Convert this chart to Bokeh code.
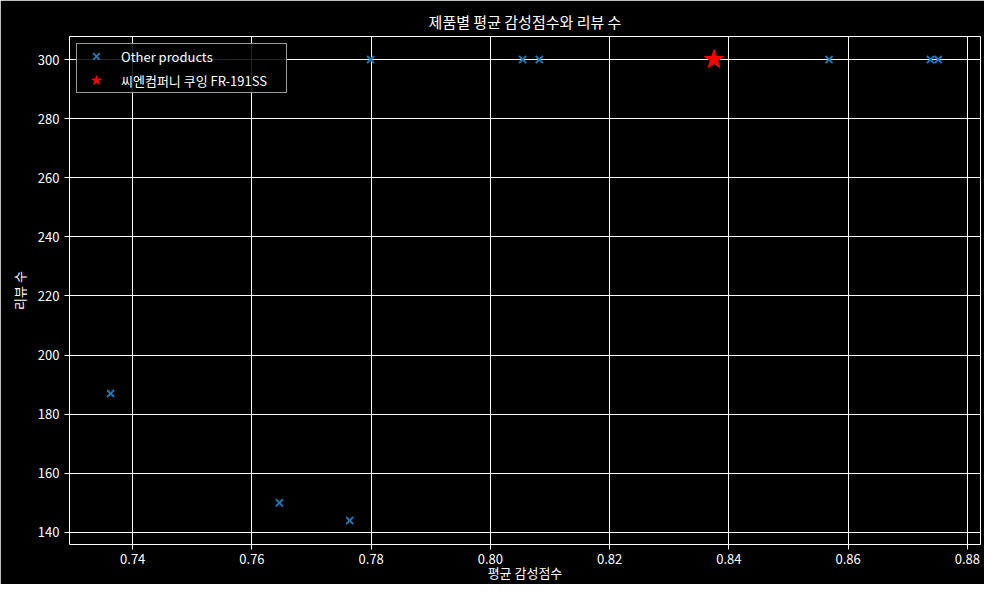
from bokeh.plotting import figure
from bokeh.models import Range1d, FixedTicker, Legend, LegendItem, ColumnDataSource
from bokeh.embed import file_html
from bokeh.resources import INLINE

FONT = "Noto Sans CJK KR"

other_scores = [0.7363, 0.7646, 0.7764, 0.7799, 0.8054, 0.8082, 0.8568, 0.8738, 0.8751]
other_reviews = [187, 150, 144, 300, 300, 300, 300, 300, 300]
target_name = "씨엔컴퍼니 쿠잉 FR-191SS"
target_score = [0.8375]
target_reviews = [300]
x_ticks = [0.74, 0.76, 0.78, 0.80, 0.82, 0.84, 0.86, 0.88]
y_ticks = [140, 160, 180, 200, 220, 240, 260, 280, 300]

p = figure(width=984, height=584, output_backend="svg", toolbar_location=None,
           x_range=Range1d(0.7294, 0.8822), y_range=Range1d(135.9, 307.8),
           min_border_left=69, min_border_right=4, min_border_top=36, min_border_bottom=40,
           background_fill_color="black", border_fill_color="black",
           title="제품별 평균 감성점수와 리뷰 수")

p.title.text_color = "white"
p.title.text_font = FONT
p.title.text_font_size = "15px"
p.title.text_font_style = "normal"
p.title.align = "center"

p.outline_line_color = "white"
p.outline_line_width = 1
p.outline_line_alpha = 1

for ax in (p.xaxis[0], p.yaxis[0]):
    ax.axis_line_color = None
    ax.major_tick_line_color = "white"
    ax.major_tick_in = 0
    ax.major_tick_out = 5
    ax.minor_tick_line_color = None
    ax.major_label_text_color = "white"
    ax.major_label_text_font = FONT
    ax.major_label_text_font_size = "13px"
    ax.axis_label_text_color = "white"
    ax.axis_label_text_font = FONT
    ax.axis_label_text_font_size = "13px"
    ax.axis_label_text_font_style = "normal"

p.xaxis.ticker = FixedTicker(ticks=x_ticks)
p.yaxis.ticker = FixedTicker(ticks=y_ticks)
p.xaxis.major_label_overrides = {t: f"{t:.2f}" for t in x_ticks}
p.xaxis.axis_label = "평균 감성점수"
p.yaxis.axis_label = "리뷰 수"
p.xaxis.axis_label_standoff = -4
p.yaxis.axis_label_standoff = 6
p.xaxis.major_label_standoff = 4
p.yaxis.major_label_standoff = 5

p.xgrid.grid_line_color = "white"
p.ygrid.grid_line_color = "white"
p.xgrid.grid_line_width = 1
p.ygrid.grid_line_width = 1
p.xgrid.ticker = FixedTicker(ticks=x_ticks)
p.ygrid.ticker = FixedTicker(ticks=y_ticks)

src_o = ColumnDataSource(dict(x=other_scores, y=other_reviews))
src_t = ColumnDataSource(dict(x=target_score, y=target_reviews))
r1 = p.scatter("x", "y", source=src_o, marker="x", size=10, line_color="#1f77b4", line_width=2)
r2 = p.scatter("x", "y", source=src_t, marker="star", size=20, fill_color="red", line_color="red")

legend = Legend(items=[LegendItem(label="Other products", renderers=[r1]),
                       LegendItem(label=target_name, renderers=[r2])],
                location="top_left")
legend.background_fill_color = "black"
legend.background_fill_alpha = 0.85
legend.border_line_color = "white"
legend.border_line_alpha = 0.6
legend.label_text_color = "white"
legend.label_text_font = FONT
legend.label_text_font_size = "13px"
legend.glyph_width = 38
legend.glyph_height = 24
legend.label_height = 20
legend.label_width = 165
legend.spacing = -7
legend.padding = 0
legend.margin = 7
legend.label_standoff = 6
p.add_layout(legend)

open("out.html", "w").write(file_html(p, INLINE))
